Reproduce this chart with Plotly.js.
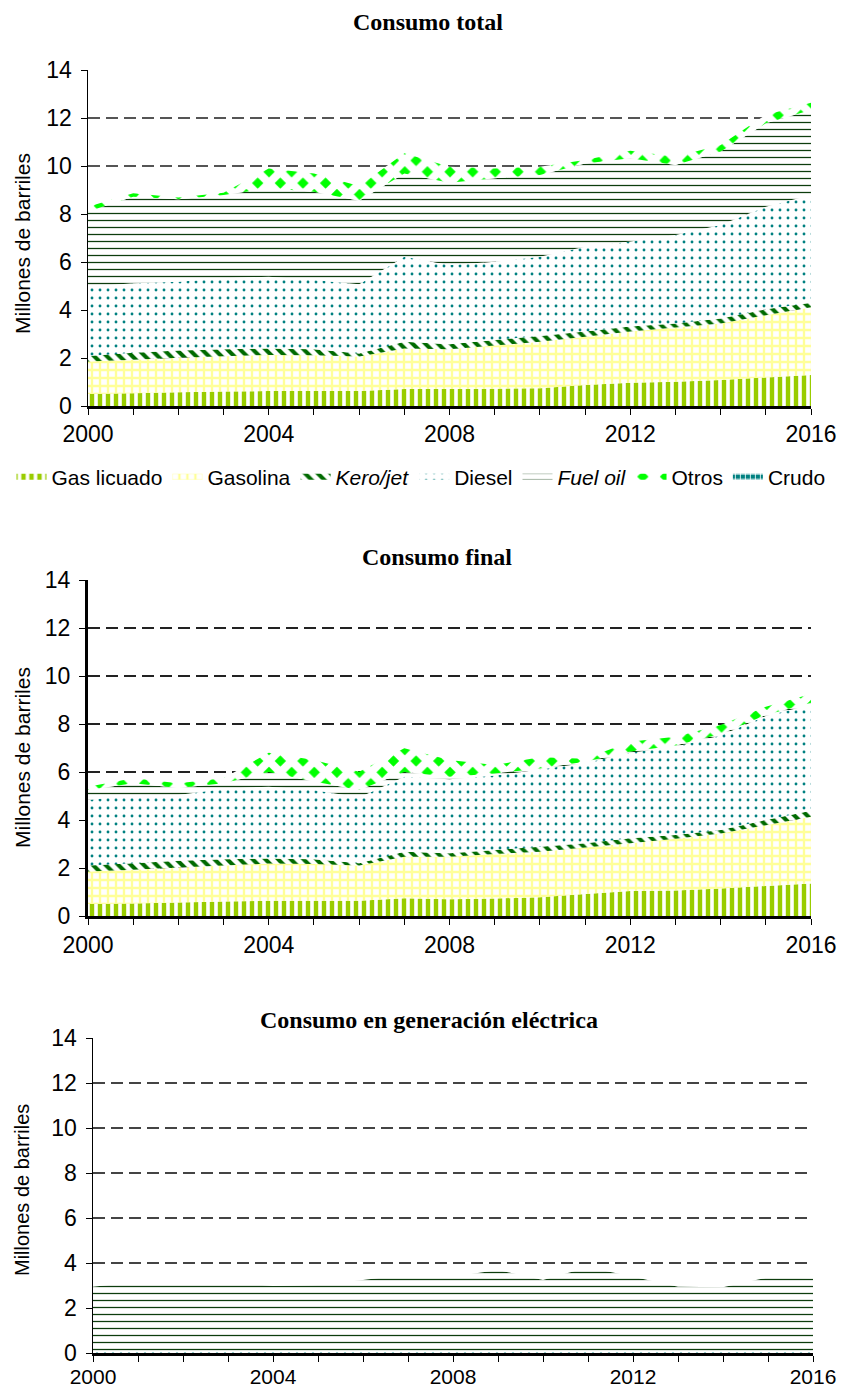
<!DOCTYPE html>
<html>
<head>
<meta charset="utf-8">
<script src="https://cdn.plot.ly/plotly-3.0.1.min.js"></script>
<style>html,body{margin:0;padding:0;background:#fff;}#chart{width:842px;height:1393px;}</style>
</head>
<body>
<div id="chart"></div>
<script>
// ---------- data ----------
const years = [2000,2001,2002,2003,2004,2005,2006,2007,2008,2009,2010,2011,2012,2013,2014,2015,2016];
const xTickVals = [2000,2004,2008,2012,2016];
const xTickText = ['2000','2004','2008','2012','2016'];

const seriesNames = ['Gas licuado','Gasolina','<i>Kero/jet</i>','Diesel','<i>Fuel oil</i>','Otros','Crudo'];
const chartTitles = ['Consumo total','Consumo final','Consumo en generación eléctrica'];
const yTitle = 'Millones de barriles';

// Consumo total (millones de barriles)
const totGasLicuado = [0.50,0.53,0.57,0.60,0.62,0.62,0.62,0.71,0.71,0.72,0.74,0.87,0.97,1.01,1.08,1.19,1.29];
const totGasolina   = [1.35,1.40,1.44,1.47,1.51,1.49,1.44,1.69,1.65,1.80,1.94,2.02,2.13,2.26,2.36,2.59,2.82];
const totKero       = [0.23,0.29,0.30,0.29,0.27,0.25,0.13,0.28,0.21,0.23,0.24,0.21,0.21,0.17,0.21,0.25,0.19];
const totDiesel     = [2.89,2.89,2.87,2.96,2.99,2.89,2.88,3.54,3.31,3.26,3.30,3.54,3.54,3.69,3.89,4.27,4.49];
const totFuelOil    = [3.13,3.61,3.43,3.47,3.68,3.68,3.48,3.47,3.42,3.48,3.41,3.46,3.47,2.91,3.06,3.48,3.54];
const totOtros      = [0.20,0.14,0.08,0.10,0.83,0.76,0.62,0.84,0.67,0.41,0.34,0.15,0.32,0.35,0.28,0.35,0.31];
const totCrudo      = [0,0,0,0,0,0,0,0,0,0,0,0,0,0,0,0,0];

// Consumo final
const finGasLicuado = [0.50,0.52,0.56,0.60,0.64,0.64,0.64,0.74,0.70,0.73,0.78,0.92,1.04,1.06,1.15,1.25,1.35];
const finGasolina   = [1.35,1.41,1.46,1.50,1.55,1.53,1.46,1.73,1.77,1.85,1.90,1.93,1.99,2.16,2.29,2.53,2.79];
const finKero       = [0.25,0.27,0.28,0.26,0.21,0.19,0.10,0.21,0.14,0.17,0.21,0.18,0.21,0.16,0.14,0.22,0.25];
const finDiesel     = [2.73,2.84,2.74,2.94,2.99,2.89,2.74,3.12,3.09,3.10,3.21,3.35,3.56,3.67,3.94,4.33,4.41];
const finFuelOil    = [0.42,0.49,0.29,0.23,0.61,0.35,0.31,0.20,0.10,0.09,0.05,0.05,0.05,0.05,0.06,0.05,0.09];
const finOtros      = [0.14,0.21,0.20,0.21,0.80,0.90,0.76,0.99,0.70,0.35,0.46,0.12,0.41,0.37,0.38,0.34,0.36];

// Consumo en generación eléctrica
const genDiesel     = [0.05,0.05,0.04,0.04,0.04,0.04,0.05,0.08,0.08,0.10,0.10,0.10,0.10,0.08,0.08,0.08,0.08];
const genFuelOil    = [2.90,3.12,3.06,3.13,2.94,2.98,3.19,3.42,3.31,3.59,3.14,3.71,3.29,2.87,2.84,3.28,3.24];

// ---------- styles ----------
const patterns = {
  gaslic:   {shape:'|', fgcolor:'#99cc00', bgcolor:'#ffffff', size:8,  solidity:0.55},
  gasolina: {shape:'+', fgcolor:'#ffff99', bgcolor:'#ffffff', size:8,  solidity:0.5},
  kero:     {shape:'\\', fgcolor:'#006a00', bgcolor:'#ffffff', size:9, solidity:0.45},
  diesel:   {shape:'.', fgcolor:'#008080', bgcolor:'#ffffff', size:8,  solidity:0.1},
  fuel:     {shape:'-', fgcolor:'#0d3d0d', bgcolor:'#ffffff', size:7,  solidity:0.18},
  otros:    {shape:'x', fgcolor:'#ffffff', bgcolor:'#00ff00', size:16, solidity:0.75},
  crudo:    {shape:'+', fgcolor:'#ffffff', bgcolor:'#008080', size:5,  solidity:0.3}
};

function area(y, name, pat, xa, ya, group, showlegend){
  return {x: years, y: y, name: name, type:'scatter', mode:'none',
    stackgroup: group, xaxis: xa, yaxis: ya, showlegend: showlegend,
    fillpattern: pat, fillcolor: pat.bgcolor, line:{width:0}, hoverinfo:'skip'};
}

const data = [
  area(totGasLicuado, seriesNames[0], patterns.gaslic,   'x','y','t',true),
  area(totGasolina,   seriesNames[1], patterns.gasolina, 'x','y','t',true),
  area(totKero,       seriesNames[2], patterns.kero,     'x','y','t',true),
  area(totDiesel,     seriesNames[3], patterns.diesel,   'x','y','t',true),
  area(totFuelOil,    seriesNames[4], patterns.fuel,     'x','y','t',true),
  area(totOtros,      seriesNames[5], patterns.otros,    'x','y','t',true),
  area(totCrudo,      seriesNames[6], patterns.crudo,    'x','y','t',true),

  area(finGasLicuado, seriesNames[0], patterns.gaslic,   'x2','y2','f',false),
  area(finGasolina,   seriesNames[1], patterns.gasolina, 'x2','y2','f',false),
  area(finKero,       seriesNames[2], patterns.kero,     'x2','y2','f',false),
  area(finDiesel,     seriesNames[3], patterns.diesel,   'x2','y2','f',false),
  area(finFuelOil,    seriesNames[4], patterns.fuel,     'x2','y2','f',false),
  area(finOtros,      seriesNames[5], patterns.otros,    'x2','y2','f',false),

  area(genDiesel,     seriesNames[3], patterns.diesel,   'x3','y3','g',false),
  area(genFuelOil,    seriesNames[4], patterns.fuel,     'x3','y3','g',false)
];

const W = 842, H = 1393;
const tickFont = {family:'Liberation Sans, Arial, sans-serif', size:23, color:'#000'};

function xax(d, anchor, lw, fs, so){
  return {domain:d, anchor:anchor, range:[2000,2016], tickvals:xTickVals, ticktext:xTickText,
    ticks:'outside', ticklen:6, tickcolor:'#000', tickwidth:1, showgrid:false, zeroline:false,
    showline:true, linecolor:'#000', linewidth:lw, fixedrange:true,
    tickfont:{family:tickFont.family, size:fs, color:'#000'}, ticklabelstandoff:so,
    minor:{dtick:1, ticks:'outside', ticklen:6, tickcolor:'#000', showgrid:false}};
}
function yax(d, anchor, lw, gc){
  return {domain:d, anchor:anchor, range:[0,14], dtick:2, tick0:0, ticks:'outside', ticklen:6,
    tickcolor:'#000', showgrid:true, gridcolor:gc, gridwidth:1.6, griddash:'12px,6px',
    zeroline:false, showline:true, linecolor:'#000', linewidth:lw, tickfont:tickFont,
    ticklabelstandoff:4, fixedrange:true};
}

const titleFont = {family:'Liberation Serif, Times New Roman, serif', size:24, color:'#000'};
const axTitleFont = {family:'Liberation Sans, Arial, sans-serif', size:21, color:'#000'};

const layout = {
  width:W, height:H, margin:{l:0,r:0,t:0,b:0}, paper_bgcolor:'#fff', plot_bgcolor:'rgba(0,0,0,0)',
  showlegend:true,
  legend:{orientation:'h', x:0.5, xanchor:'center', y:1-477/H, yanchor:'middle', traceorder:'normal',
    font:{family:'Liberation Sans, Arial, sans-serif', size:21, color:'#000'}, itemwidth:30},
  xaxis:  xax([88/W, 811/W], 'y', 2.5, 23, 0),
  yaxis:  yax([1-406/H, 1-70/H], 'x', 1.5, '#555'),
  xaxis2: xax([88/W, 811/W], 'y2', 3, 23, 0),
  yaxis2: yax([1-916/H, 1-580/H], 'x2', 3, '#222'),
  xaxis3: xax([93/W, 813/W], 'y3', 3, 21, -3),
  yaxis3: yax([1-1353/H, 1-1038/H], 'x3', 1.5, '#444'),
  annotations:[
    {text:'<b>'+chartTitles[0]+'</b>', xref:'paper', yref:'paper', x:428/W, y:1-22/H, showarrow:false,
      xanchor:'center', yanchor:'middle', font:titleFont},
    {text:'<b>'+chartTitles[1]+'</b>', xref:'paper', yref:'paper', x:437/W, y:1-557/H, showarrow:false,
      xanchor:'center', yanchor:'middle', font:titleFont},
    {text:'<b>'+chartTitles[2]+'</b>', xref:'paper', yref:'paper', x:429/W, y:1-1020/H, showarrow:false,
      xanchor:'center', yanchor:'middle', font:titleFont},
    {text:yTitle, xref:'paper', yref:'paper', x:22/W, y:1-244/H, showarrow:false, textangle:-90,
      xanchor:'center', yanchor:'middle', font:axTitleFont},
    {text:yTitle, xref:'paper', yref:'paper', x:22/W, y:1-758/H, showarrow:false, textangle:-90,
      xanchor:'center', yanchor:'middle', font:axTitleFont},
    {text:yTitle, xref:'paper', yref:'paper', x:22/W, y:1-1190/H, showarrow:false, textangle:-90,
      xanchor:'center', yanchor:'middle', font:{family:axTitleFont.family, size:20, color:'#000'}}
  ]
};

Plotly.newPlot('chart', data, layout, {staticPlot:true, displayModeBar:false});
</script>
</body>
</html>
